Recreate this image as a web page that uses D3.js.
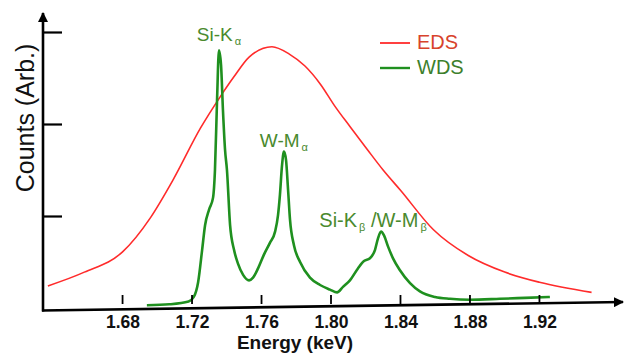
<!DOCTYPE html>
<html>
<head>
<meta charset="utf-8">
<script src="https://cdn.jsdelivr.net/npm/d3@7"></script>
<style>
  body { margin: 0; background: #fff; }
  svg { font-family: Arial, "Liberation Sans", sans-serif; }
</style>
</head>
<body>
<div id="chart"></div>
<script>
// EDS spectrum (energy in keV, counts in arb. units)
const edsEnergy = [1.637, 1.658, 1.680, 1.696, 1.709, 1.725, 1.736, 1.744, 1.753, 1.766,
                   1.776, 1.785, 1.794, 1.802, 1.811, 1.821, 1.830, 1.840, 1.859, 1.879,
                   1.900, 1.920, 1.950];
const edsCounts = [0.24, 0.39, 0.61, 0.98, 1.39, 1.96, 2.29, 2.51, 2.73, 2.84,
                   2.76, 2.63, 2.43, 2.20, 1.97, 1.72, 1.50, 1.28, 0.85, 0.57,
                   0.39, 0.28, 0.17];

// WDS spectrum
const wdsEnergy = [1.694, 1.707, 1.718, 1.721, 1.7235, 1.7258, 1.7275, 1.7298, 1.7321, 1.7332,
                   1.7344, 1.7355, 1.7367, 1.7378, 1.7390, 1.7401, 1.7419, 1.7442, 1.7465, 1.7494,
                   1.7528, 1.7551, 1.7580, 1.7614, 1.7649, 1.7678, 1.7695, 1.7706, 1.7718, 1.7729,
                   1.7741, 1.7753, 1.7764, 1.7787, 1.7822, 1.7879, 1.7937, 1.7994, 1.8035, 1.8069,
                   1.8109, 1.8155, 1.8190, 1.8224, 1.8253, 1.8271, 1.8288, 1.8305, 1.8328, 1.8357,
                   1.8397, 1.8455, 1.8512, 1.8599, 1.8685, 1.8800, 1.8973, 1.9117, 1.9260];
const wdsCounts = [0.03, 0.04, 0.07, 0.12, 0.28, 0.63, 0.90, 1.07, 1.20, 1.50,
                   2.26, 2.80, 2.64, 2.15, 1.72, 1.50, 0.90, 0.63, 0.48, 0.36,
                   0.30, 0.33, 0.43, 0.58, 0.71, 0.83, 1.01, 1.23, 1.55, 1.70,
                   1.61, 1.28, 0.96, 0.68, 0.50, 0.33, 0.25, 0.20, 0.17, 0.23,
                   0.30, 0.43, 0.51, 0.54, 0.63, 0.76, 0.83, 0.79, 0.67, 0.54,
                   0.41, 0.27, 0.18, 0.12, 0.10, 0.09, 0.10, 0.11, 0.12];

const xTicks = [1.68, 1.72, 1.76, 1.80, 1.84, 1.88, 1.92];
const yTicks = [1, 2, 3];

// peak labels: [text, is subscript] pieces and the peak they sit over
const peakLabels = [
  {parts: [["Si-K", 0], ["\u03b1", 1]], energy: 1.7355, count: 2.80, dx: 0, dy: -9, size: 19},
  {parts: [["W-M", 0], ["\u03b1", 1]], energy: 1.7729, count: 1.70, dx: 0, dy: -5, size: 19},
  {parts: [["Si-K", 0], ["\u03b2", 1], [" /W-M", 0], ["\u03b2", 1]], energy: 1.8288, count: 0.83, dx: -8, dy: -5, size: 20}
];

const W = 625, H = 353;
const svg = d3.select("#chart").append("svg")
  .attr("width", W)
  .attr("height", H);

const x = d3.scaleLinear().domain([1.6342, 1.9681]).range([43, 623]);
const y = d3.scaleLinear().domain([0, 3]).range([308, 32]);

const red = "#ff2b2b", green = "#1f901f";

// arrow head
svg.append("defs").append("marker")
  .attr("id", "arrow")
  .attr("viewBox", "0 0 10 10")
  .attr("refX", 9).attr("refY", 5)
  .attr("markerWidth", 4).attr("markerHeight", 4)
  .attr("markerUnits", "strokeWidth")
  .attr("orient", "auto")
  .append("path")
  .attr("d", "M0,0 L10,5 L0,10 z")
  .attr("fill", "#000");

// curves
const line = d3.line()
  .x(d => x(d[0]))
  .y(d => y(d[1]))
  .curve(d3.curveMonotoneX);

svg.append("path")
  .datum(edsEnergy.map((e, i) => [e, edsCounts[i]]))
  .attr("d", line)
  .attr("fill", "none")
  .attr("stroke", red)
  .attr("stroke-width", 1.6);

svg.append("path")
  .datum(wdsEnergy.map((e, i) => [e, wdsCounts[i]]))
  .attr("d", line)
  .attr("fill", "none")
  .attr("stroke", green)
  .attr("stroke-width", 2.6)
  .attr("stroke-linejoin", "round");

// x axis (the scanned original is slightly tilted)
svg.append("line")
  .attr("x1", x.range()[0] - 1).attr("y1", y(0) + 2.5)
  .attr("x2", x.range()[1]).attr("y2", y(0) - 6)
  .attr("stroke", "#000").attr("stroke-width", 2.6)
  .attr("marker-end", "url(#arrow)");

svg.selectAll(".xtick")
  .data(xTicks)
  .enter().append("line")
  .attr("class", "xtick")
  .attr("x1", d => x(d)).attr("x2", d => x(d))
  .attr("y1", 295).attr("y2", 304)
  .attr("stroke", "#000").attr("stroke-width", 1.8);

const xAxis = svg.append("g")
  .attr("transform", `translate(0,${y(0)})`)
  .call(d3.axisBottom(x).tickValues(xTicks).tickSize(0).tickPadding(8)
        .tickFormat(d3.format(".2f")));
xAxis.select(".domain").remove();
xAxis.selectAll("text")
  .attr("font-size", 17.5)
  .attr("font-weight", "bold")
  .attr("font-family", "Arial, 'Liberation Sans', sans-serif")
  .attr("fill", "#111");

// y axis
svg.append("line")
  .attr("x1", x.range()[0]).attr("y1", y(0) + 3.5)
  .attr("x2", x.range()[0]).attr("y2", 13)
  .attr("stroke", "#000").attr("stroke-width", 2.6)
  .attr("marker-end", "url(#arrow)");

const yAxis = svg.append("g")
  .attr("transform", `translate(${x.range()[0]},0)`)
  .call(d3.axisRight(y).tickValues(yTicks).tickSize(19).tickFormat(""));
yAxis.select(".domain").remove();
yAxis.selectAll(".tick line").attr("stroke", "#000").attr("stroke-width", 2.2);

// axis titles
svg.append("text")
  .attr("x", 295).attr("y", 349)
  .attr("text-anchor", "middle")
  .attr("font-size", 19)
  .attr("font-weight", "bold")
  .attr("fill", "#111")
  .text("Energy (keV)");

svg.append("text")
  .attr("transform", "translate(34,118) rotate(-90)")
  .attr("text-anchor", "middle")
  .attr("font-size", 25)
  .attr("fill", "#111")
  .text("Counts (Arb.)");

// legend
const legend = [["EDS", red, "#d8432c", 1.8, 43], ["WDS", green, "#3d7f2c", 2.4, 68]];
legend.forEach(([name, col, textCol, sw, ly]) => {
  svg.append("line")
    .attr("x1", 380).attr("x2", 410)
    .attr("y1", ly).attr("y2", ly)
    .attr("stroke", col).attr("stroke-width", sw);
  svg.append("text")
    .attr("x", 417).attr("y", ly + 6)
    .attr("font-size", 20)
    .attr("fill", textCol)
    .text(name);
});

// peak labels
peakLabels.forEach(p => {
  const t = svg.append("text")
    .attr("x", x(p.energy) + p.dx)
    .attr("y", y(p.count) + p.dy)
    .attr("text-anchor", "middle")
    .attr("font-size", p.size)
    .attr("fill", "#4a8a2e");
  p.parts.forEach(([s, sub], i) => {
    const ts = t.append("tspan").text(s);
    if (sub) ts.attr("font-size", 11).attr("dy", 4).attr("dx", 2);
    else if (i > 0) ts.attr("dy", -4);
  });
});
</script>
</body>
</html>
